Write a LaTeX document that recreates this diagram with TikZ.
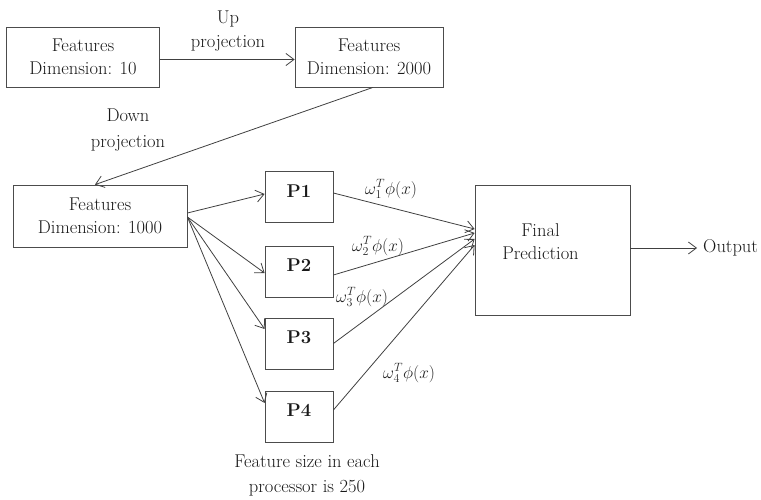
\documentclass[tikz,border=0pt]{standalone}
\usepackage{fontspec}
\usetikzlibrary{arrows.meta}
\begin{document}
\begin{tikzpicture}[x=1pt,y=-1pt]
\tikzset{
  lbl/.style={font=\fontsize{18.5}{24}\selectfont, text=black!90, align=center, inner sep=0pt},
  box/.style={draw=black!70, line width=0.8pt, inner sep=0pt, align=center,
              font=\fontsize{18.5}{23}\selectfont, text=black!90},
  pbox/.style={box, minimum width=68pt, minimum height=51pt},
  plab/.style={font=\bfseries\fontsize{18.5}{24}\selectfont, text=black!90, yshift=6pt},
  arr/.style={draw=black!75, line width=0.8pt,
              -{Straight Barb[length=8pt,width=12pt,line width=0.8pt]}},
  wlab/.style={font=\fontsize{17}{20}\selectfont, text=black!85, inner sep=0pt}
}
\useasboundingbox (0,0) rectangle (761,500);

% boxes
\node[box, minimum width=153pt, minimum height=60pt] (A) at (83,57) {Features\\Dimension: 10};
\node[box, minimum width=148pt, minimum height=60pt] (B) at (369,57) {Features\\Dimension: 2000};
\node[box, minimum width=174pt, minimum height=62pt] (C) at (100,216) {Features\\Dimension: 1000};

\node[pbox, label={[plab]center:P1}] (P1) at (299,197) {};
\node[pbox, label={[plab]center:P2}] (P2) at (299,271.5) {};
\node[pbox, label={[plab]center:P3}] (P3) at (299,343.5) {};
\node[pbox, label={[plab]center:P4}] (P4) at (299,416.5) {};

\node[box, minimum width=155pt, minimum height=130pt,
      label={[font=\fontsize{18.5}{23}\selectfont, text=black!90, align=center,
              xshift=-12pt, yshift=8.5pt]center:Final\\Prediction}] (F) at (552.5,250) {};

\node[lbl, anchor=west] (O) at (703,248) {Output};

% texts
\node[lbl] (up) at (228,31) {Up\\projection};
\node[lbl, font=\fontsize{18.5}{26}\selectfont] (down) at (128,130) {Down\\projection};
\node[lbl, font=\fontsize{18.5}{25}\selectfont] (note) at (307,475) {Feature size in each\\processor is 250};

% connectors
\draw[arr] ([yshift=-2.5pt]A.east) -- ([yshift=-2.5pt]B.west);
\draw[arr] ([xshift=4pt]B.south) -- ([xshift=-5pt]C.north);

\draw[arr] ([yshift=3pt]C.east) -- ([yshift=3pt]P1.west);
\draw[arr] ([yshift=-1pt]C.east) -- ([yshift=-1.5pt]P2.west);
\draw[arr] ([yshift=-1pt]C.east) -- ([yshift=14.5pt]P3.west);
\draw[arr] ([yshift=-1pt]C.east) -- ([yshift=13.5pt]P4.west);

\draw[arr] ([yshift=4pt]P1.east) -- ([yshift=21pt]F.west);
\draw[arr] ([yshift=-3.5pt]P2.east) -- ([yshift=17pt]F.west);
\draw[arr] (P3.east) -- ([yshift=11pt]F.west);
\draw[arr] ([yshift=6.5pt]P4.east) -- ([yshift=5pt]F.west);

\draw[arr, shorten >=6pt] ([yshift=2pt]F.east) -- (O.west);

% weight labels
\node[wlab] (w1) at (391,189) {$\omega^{T}_{1}\phi(x)$};
\node[wlab] (w2) at (378,246) {$\omega^{T}_{2}\phi(x)$};
\node[wlab] (w3) at (362,297) {$\omega^{T}_{3}\phi(x)$};
\node[wlab] (w4) at (409,373) {$\omega^{T}_{4}\phi(x)$};
\end{tikzpicture}
\end{document}
